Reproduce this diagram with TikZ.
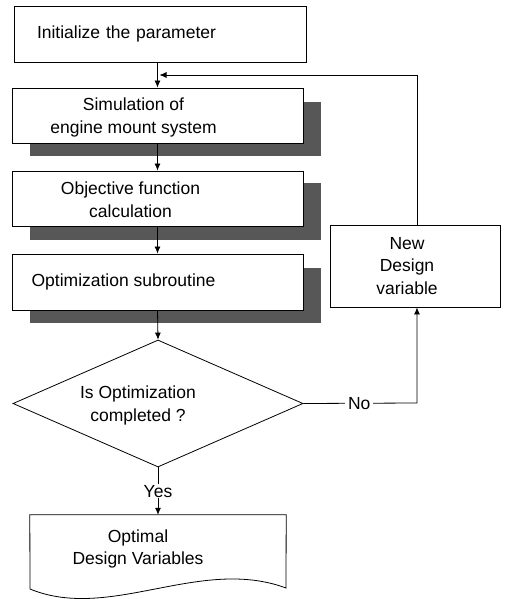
\documentclass[tikz,border=0pt]{standalone}
\usepackage{fontspec}
\setmainfont{Liberation Sans}
\usetikzlibrary{shapes.geometric,arrows.meta}
\begin{document}
\begin{tikzpicture}[x=1pt,y=-1pt,
  every node/.style={font=\fontsize{17.5}{22.5}\selectfont},
  box/.style={draw, line width=0.9pt, fill=white, rectangle, inner sep=0pt},
  arr/.style={line width=0.8pt, -{Latex[length=7pt,width=6pt]}},
  ln/.style={line width=0.8pt}]
\useasboundingbox (0,0) rectangle (512,599);
% shadows
\fill[black!66] (30,102) rectangle (321,156);
\fill[black!66] (30,183) rectangle (321,240);
\fill[black!66] (30,268) rectangle (321,323);
% boxes
\node[box, minimum width=292pt, minimum height=56pt, text width=246pt, align=left, inner xsep=23pt] (init) at (160,34) {Initialize the parameter};
\node[box, minimum width=291pt, minimum height=55pt, label={[xshift=-24pt,yshift=-2pt,align=center]center:Simulation of\\engine mount system}] (sim) at (157.5,115.5) {};
\node[box, minimum width=291pt, minimum height=55pt, label={[xshift=-27pt,yshift=-1pt,align=center]center:Objective function\\calculation}] (obj) at (157.5,198.5) {};
\node[box, minimum width=291pt, minimum height=56pt, label={[xshift=-34pt,align=center]center:Optimization subroutine}] (opt) at (157.5,282) {};
\node[draw, line width=0.8pt, diamond, minimum width=290pt, minimum height=127pt, inner sep=0pt, label={[xshift=-20pt,yshift=-2pt,align=center]center:Is Optimization\\completed ?}] (dec) at (158,403.5) {};
\node[box, minimum width=170pt, minimum height=82pt, label={[xshift=-8pt,align=center]center:New\\Design\\variable}] (new) at (415,266) {};
\node[minimum width=256pt, minimum height=74pt, inner sep=0pt, label={[xshift=-20pt,yshift=3pt,align=center]center:Optimal\\Design Variables}] (doc) at (158,552) {};
\draw[line width=0.8pt] (doc.north west) -- (doc.north east) -- (286,588)
  .. controls (200,556) and (110,622) .. (30,589) -- cycle;
% connectors
\coordinate (j) at (157.5,75);
\coordinate (tr) at (417,75);
\coordinate (br) at (417,403);
\draw[arr] (init.south -| sim.north) -- (sim.north);
\draw[arr] (sim.south) -- (obj.north);
\draw[arr] (obj.south) -- (opt.north);
\draw[arr] (opt.south) -- (dec.north);
\draw[arr] (new.north -| tr) -- (tr) -- ([xshift=2pt]j);
\draw[arr] (dec.east) -- node[fill=white, inner xsep=3pt, inner ysep=1pt, xshift=-1pt] (no) {No} (br) -- (new.south -| br);
\draw[arr] (dec.south) -- node[fill=white, inner xsep=1pt, inner ysep=1pt, pos=0.5] (yes) {Yes} (doc.north);
\end{tikzpicture}
\end{document}
